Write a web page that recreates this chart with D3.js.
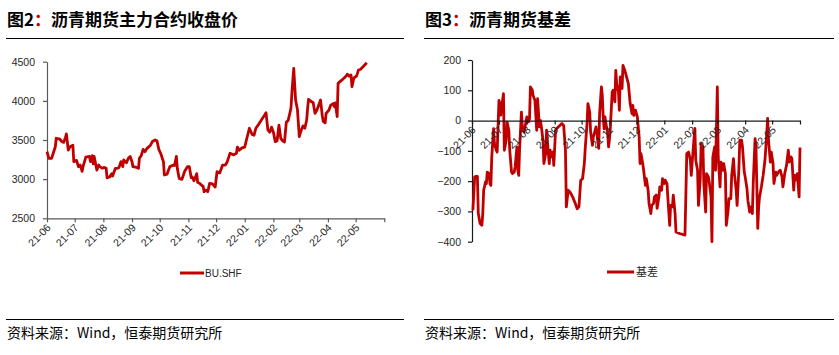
<!DOCTYPE html>
<html><head><meta charset="utf-8">
<script src="https://cdn.jsdelivr.net/npm/d3@7"></script>
<style>body{margin:0;background:#fff}svg{display:block}</style>
</head><body><svg id="c" width="839" height="355"></svg>
<script>
const monthTicks = ["21-06-01","21-07-01","21-08-01","21-09-01","21-10-01","21-11-01","21-12-01","22-01-01","22-02-01","22-03-01","22-04-01","22-05-01","22-06-01"];
const monthLabels = ["21-06","21-07","21-08","21-09","21-10","21-11","21-12","22-01","22-02","22-03","22-04","22-05",""];
const priceTicks = [2500,3000,3500,4000,4500];
const basisTicks = [-400,-300,-200,-100,0,100,200];

const priceDates = ["21-06-01","21-06-03","21-06-06","21-06-10","21-06-11","21-06-15","21-06-17","21-06-19","21-06-21","21-06-22","21-06-24","21-06-26","21-06-29","21-06-30","21-07-03","21-07-05","21-07-07","21-07-09","21-07-10","21-07-13","21-07-17","21-07-18","21-07-20","21-07-21","21-07-22","21-07-25","21-07-27","21-07-28","21-07-31","21-08-02","21-08-04","21-08-05","21-08-08","21-08-10","21-08-11","21-08-14","21-08-16","21-08-18","21-08-20","21-08-22","21-08-23","21-08-26","21-08-28","21-08-30","21-09-01","21-09-02","21-09-06","21-09-08","21-09-09","21-09-11","21-09-13","21-09-15","21-09-17","21-09-21","21-09-23","21-09-26","21-09-28","21-09-30","21-10-02","21-10-05","21-10-06","21-10-09","21-10-10","21-10-12","21-10-16","21-10-17","21-10-19","21-10-20","21-10-22","21-10-25","21-10-26","21-10-28","21-10-31","21-11-02","21-11-04","21-11-05","21-11-07","21-11-10","21-11-11","21-11-13","21-11-17","21-11-18","21-11-20","21-11-22","21-11-24","21-11-27","21-11-30","21-12-02","21-12-05","21-12-08","21-12-11","21-12-13","21-12-16","21-12-20","21-12-23","21-12-24","21-12-26","21-12-29","22-01-01","22-01-03","22-01-06","22-01-09","22-01-11","22-01-13","22-01-16","22-01-19","22-01-22","22-01-24","22-01-26","22-01-28","22-01-30","22-02-01","22-02-03","22-02-05","22-02-07","22-02-09","22-02-11","22-02-13","22-02-15","22-02-17","22-02-20","22-02-21","22-02-23","22-02-25","22-02-27","22-03-01","22-03-03","22-03-05","22-03-07","22-03-09","22-03-10","22-03-11","22-03-14","22-03-16","22-03-18","22-03-20","22-03-22","22-03-24","22-03-26","22-03-27","22-03-29","22-03-30","22-04-02","22-04-04","22-04-07","22-04-08","22-04-09","22-04-11","22-04-12","22-04-14","22-04-17","22-04-20","22-04-22","22-04-24","22-04-26","22-04-27","22-04-29","22-05-01","22-05-02","22-05-04","22-05-06","22-05-09","22-05-11","22-05-13"];
const priceValues = [3350,3266,3266,3414,3522,3510,3480,3470,3533,3577,3372,3414,3434,3223,3240,3159,3180,3100,3160,3280,3290,3225,3300,3195,3290,3115,3180,3160,3140,3150,3138,3018,3030,3070,3040,3138,3138,3150,3223,3160,3245,3210,3266,3290,3223,3160,3150,3138,3266,3300,3380,3350,3390,3434,3480,3500,3490,3380,3330,3223,3053,3065,3100,3160,3180,3175,3290,3138,3010,2997,3030,3100,3160,3160,3020,3030,2980,3070,2960,2947,2905,2840,2860,2840,2947,2940,2900,3095,3080,3180,3180,3220,3330,3310,3330,3410,3370,3400,3410,3510,3650,3570,3560,3650,3700,3755,3810,3849,3630,3600,3664,3600,3478,3490,3690,3520,3490,3475,3728,3750,3905,4100,4415,4010,3890,3542,3620,3680,3650,3755,3900,4020,3990,3980,3840,3880,3945,4010,3800,3735,3720,3840,3880,3945,3965,3925,3975,3800,4224,4245,4275,4308,4340,4315,4330,4180,4290,4310,4315,4393,4400,4435,4460,4487];

const basisDates = ["21-06-02","21-06-04","21-06-05","21-06-07","21-06-08","21-06-10","21-06-12","21-06-13","21-06-14","21-06-16","21-06-17","21-06-18","21-06-20","21-06-21","21-06-22","21-06-23","21-06-25","21-06-26","21-06-28","21-06-29","21-07-01","21-07-02","21-07-03","21-07-04","21-07-06","21-07-07","21-07-09","21-07-10","21-07-12","21-07-13","21-07-15","21-07-16","21-07-18","21-07-19","21-07-21","21-07-22","21-07-23","21-07-24","21-07-26","21-07-27","21-07-29","21-07-30","21-08-01","21-08-03","21-08-04","21-08-05","21-08-07","21-08-08","21-08-10","21-08-11","21-08-12","21-08-13","21-08-15","21-08-16","21-08-17","21-08-19","21-08-20","21-08-22","21-08-23","21-08-25","21-08-26","21-08-27","21-08-28","21-08-30","21-08-31","21-09-02","21-09-03","21-09-05","21-09-09","21-09-11","21-09-13","21-09-14","21-09-16","21-09-18","21-09-21","21-09-24","21-09-26","21-09-28","21-09-30","21-10-02","21-10-04","21-10-05","21-10-07","21-10-08","21-10-10","21-10-11","21-10-13","21-10-14","21-10-16","21-10-17","21-10-18","21-10-20","21-10-21","21-10-23","21-10-24","21-10-25","21-10-26","21-10-27","21-10-28","21-10-30","21-10-31","21-11-01","21-11-02","21-11-04","21-11-05","21-11-07","21-11-08","21-11-09","21-11-11","21-11-12","21-11-13","21-11-14","21-11-15","21-11-16","21-11-18","21-11-19","21-11-21","21-11-22","21-11-24","21-11-26","21-11-27","21-11-28","21-11-30","21-12-02","21-12-04","21-12-05","21-12-06","21-12-08","21-12-09","21-12-11","21-12-12","21-12-14","21-12-15","21-12-17","21-12-18","21-12-20","21-12-21","21-12-23","21-12-24","21-12-26","21-12-27","21-12-29","21-12-30","22-01-01","22-01-02","22-01-04","22-01-05","22-01-07","22-01-08","22-01-10","22-01-11","22-01-13","22-01-14","22-01-18","22-01-24","22-01-26","22-01-28","22-01-30","22-01-31","22-02-02","22-02-04","22-02-05","22-02-07","22-02-08","22-02-10","22-02-11","22-02-13","22-02-14","22-02-16","22-02-17","22-02-19","22-02-20","22-02-22","22-02-23","22-02-24","22-02-26","22-02-27","22-03-01","22-03-02","22-03-04","22-03-05","22-03-07","22-03-08","22-03-10","22-03-11","22-03-13","22-03-14","22-03-16","22-03-17","22-03-19","22-03-20","22-03-22","22-03-23","22-03-25","22-03-26","22-03-28","22-03-29","22-03-31","22-04-01","22-04-03","22-04-04","22-04-06","22-04-07","22-04-09","22-04-10","22-04-12","22-04-13","22-04-15","22-04-16","22-04-17","22-04-19","22-04-21","22-04-23","22-04-25","22-04-26","22-04-27","22-04-29","22-04-30","22-05-02","22-05-03","22-05-05","22-05-06","22-05-08","22-05-10","22-05-12","22-05-13","22-05-15","22-05-17","22-05-19","22-05-20","22-05-22","22-05-23","22-05-25","22-05-26","22-05-27","22-05-29","22-05-31","22-06-01"];
const basisValues = [-296,-186,-184,-184,-307,-340,-346,-307,-230,-203,-208,-170,-175,-208,-214,-120,-27,-76,-98,-104,67,56,18,45,89,-98,-65,-5,-32,-98,-170,-175,-170,-153,-87,-164,-181,-92,28,-21,-38,-21,12,-4,6,111,102,83,67,18,-32,72,-21,1,-16,-65,-142,-109,-32,-109,-142,-98,-120,-104,-148,-32,-27,-21,-10,-16,-98,-285,-230,-236,-252,-274,-291,-285,-197,-192,-142,-92,-10,56,28,-38,-82,-54,-32,-21,-43,-92,23,111,83,12,-27,12,-10,-43,-87,-60,-21,94,100,62,166,122,94,34,144,122,106,182,166,155,133,122,56,23,50,17,34,12,-54,-142,-109,-142,-164,-214,-192,-230,-274,-307,-280,-274,-252,-246,-290,-252,-219,-230,-192,-208,-197,-208,-258,-346,-280,-285,-246,-307,-368,-373,-378,-109,-104,-131,-181,-98,-26,-131,-164,-280,-192,-76,-87,-208,-302,-175,-186,-203,-252,-400,-120,-87,-164,111,-120,-219,-137,-164,-142,-175,-346,-296,-258,-258,-181,-126,-175,-230,-280,-159,-65,-65,-87,-170,-186,-225,-263,-302,-285,-307,-203,-60,-87,-356,-285,-252,-219,-181,-131,-43,7,-65,-137,-104,-142,-208,-170,-181,-170,-164,-186,-219,-175,-148,-98,-137,-120,-126,-230,-181,-197,-175,-252,-89];

const parse = d3.timeParse("%y-%m-%d");
const RED = "#C00000";
const svg = d3.select("#c");
svg.append("rect").attr("width",839).attr("height",355).attr("fill","#fff");

const zip = (ds, vs) => d3.range(Math.min(ds.length, vs.length)).map(i => ({d: parse(ds[i]), v: vs[i]}));
const tickDates = monthTicks.map(parse);

function header(x0, x1, num, rest) {
  const t = svg.append("text").attr("x", x0 + 1).attr("y", 26)
    .attr("font-family", "'Noto Sans CJK SC', sans-serif").attr("font-weight", "bold")
    .attr("font-size", 17).attr("fill", "#000");
  t.append("tspan").text(num);
  t.append("tspan").attr("fill", RED).text("：");
  t.append("tspan").text(rest);
  svg.append("line").attr("x1", x0).attr("x2", x1).attr("y1", 38.5).attr("y2", 38.5)
    .attr("stroke", "#000").attr("stroke-width", 1.2);
  svg.append("line").attr("x1", x0).attr("x2", x1).attr("y1", 319.5).attr("y2", 319.5)
    .attr("stroke", "#000").attr("stroke-width", 1.2);
  svg.append("text").attr("x", x0 + 1).attr("y", 338)
    .attr("font-family", "'Noto Sans CJK SC', sans-serif").attr("font-size", 14)
    .attr("fill", "#000").text("资料来源：Wind，恒泰期货研究所");
}

function styleAxis(g, color) {
  g.select(".domain").attr("stroke", color).attr("stroke-width", 1.2);
  g.selectAll(".tick line").attr("stroke", color).attr("stroke-width", 1.2);
  g.selectAll("text").attr("fill", "#262626")
    .attr("font-family", "'Liberation Sans', Arial, sans-serif").attr("font-size", 10.5);
}

function rotateLabels(g) {
  g.selectAll(".tick text").attr("x", 0).attr("y", 0).attr("dy", 0)
    .attr("text-anchor", "end").attr("transform", "translate(4,10) rotate(-45)");
}

/* ---------- Left chart ---------- */
header(6, 404, "图2", "沥青期货主力合约收盘价");
const xL = d3.scaleTime().domain([parse("21-06-01"), parse("22-06-01")]).range([47, 384.3]);
const yL = d3.scaleLinear().domain([2500, 4500]).range([218.3, 61.7]);

const gyL = svg.append("g").attr("transform", "translate(47,0)")
  .call(d3.axisLeft(yL).tickValues(priceTicks).tickFormat(d3.format("d")).tickSize(4).tickSizeOuter(0).tickPadding(8));
styleAxis(gyL, "#595959");
const gxL = svg.append("g").attr("transform", "translate(0,218.3)")
  .call(d3.axisBottom(xL).tickValues(tickDates).tickFormat((d, i) => monthLabels[i]).tickSize(4).tickSizeOuter(0));
styleAxis(gxL, "#595959");
rotateLabels(gxL);

svg.append("path").datum(zip(priceDates, priceValues))
  .attr("fill", "none").attr("stroke", RED).attr("stroke-width", 2.8).attr("stroke-linejoin", "round")
  .attr("d", d3.line().x(p => xL(p.d)).y(p => yL(p.v)));

svg.append("line").attr("x1", 180).attr("x2", 204).attr("y1", 273).attr("y2", 273)
  .attr("stroke", RED).attr("stroke-width", 3);
svg.append("text").attr("x", 205).attr("y", 276.5)
  .attr("font-family", "'Liberation Sans Narrow', 'Liberation Sans', sans-serif").attr("font-size", 10)
  .attr("fill", "#262626").text("BU.SHF");

/* ---------- Right chart ---------- */
header(424, 834, "图3", "沥青期货基差");
const xR = d3.scaleTime().domain([parse("21-06-01"), parse("22-06-01")]).range([472, 800]);
const yR = d3.scaleLinear().domain([-400, 200]).range([241.7, 60]);

const gyR = svg.append("g").attr("transform", "translate(472,0)")
  .call(d3.axisLeft(yR).tickValues(basisTicks).tickFormat(d3.format("d")).tickSize(4).tickSizeOuter(0).tickPadding(7));
styleAxis(gyR, "#1a1a1a");

svg.append("path").datum(zip(basisDates, basisValues))
  .attr("fill", "none").attr("stroke", RED).attr("stroke-width", 2.8).attr("stroke-linejoin", "round")
  .attr("d", d3.line().x(p => xR(p.d)).y(p => yR(p.v)));

const gxR = svg.append("g").attr("transform", `translate(0,${yR(0)})`)
  .call(d3.axisBottom(xR).tickValues(tickDates).tickFormat((d, i) => monthLabels[i]).tickSize(4).tickSizeOuter(0));
styleAxis(gxR, "#1a1a1a");
rotateLabels(gxR);

svg.append("line").attr("x1", 607).attr("x2", 634).attr("y1", 272).attr("y2", 272)
  .attr("stroke", RED).attr("stroke-width", 3);
svg.append("text").attr("x", 636).attr("y", 276)
  .attr("font-family", "'Noto Sans CJK SC', sans-serif").attr("font-size", 11)
  .attr("fill", "#262626").text("基差");
</script>
</body></html>
